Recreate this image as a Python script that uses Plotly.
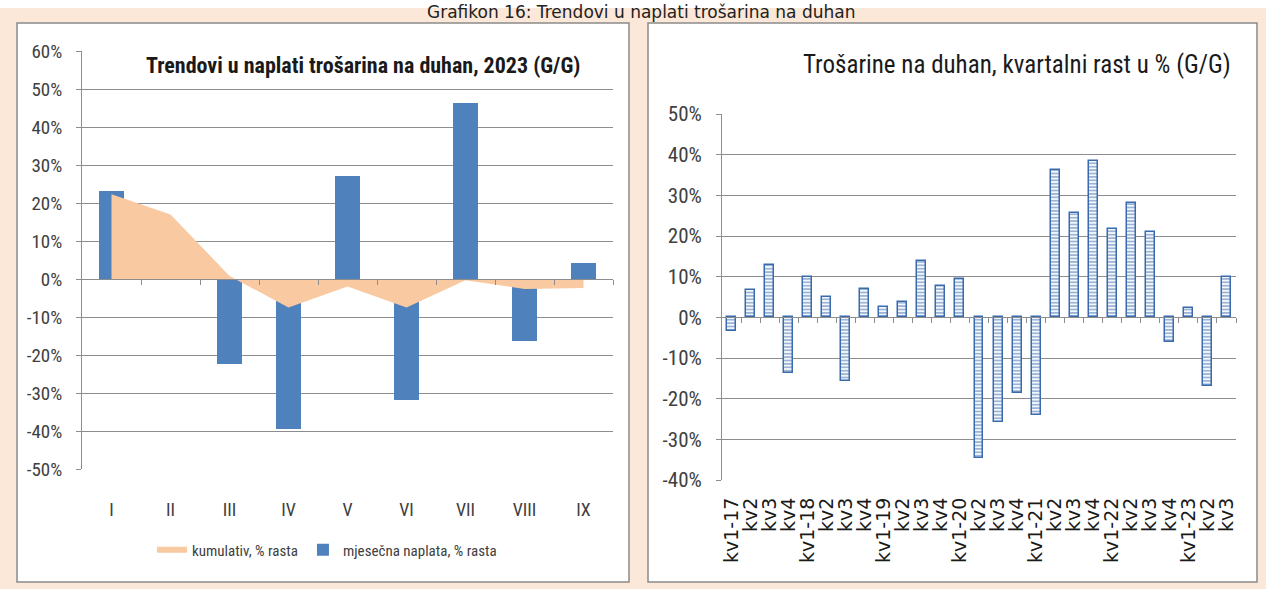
import plotly.graph_objects as go

# ---------------- data ----------------
months = ["I", "II", "III", "IV", "V", "VI", "VII", "VIII", "IX"]
monthly_growth = [23.1, 8.9, -22.3, -39.5, 27.2, -31.8, 46.2, -16.4, 4.3]
cumulative_growth = [22.3, 17.0, 0.8, -7.5, -2.0, -7.5, -0.3, -2.6, -2.4]

quarters = ["kv1-17", "kv2", "kv3", "kv4",
            "kv1-18", "kv2", "kv3", "kv4",
            "kv1-19", "kv2", "kv3", "kv4",
            "kv1-20", "kv2", "kv3", "kv4",
            "kv1-21", "kv2", "kv3", "kv4",
            "kv1-22", "kv2", "kv3", "kv4",
            "kv1-23", "kv2", "kv3"]
quarterly_growth = [-3.3, 6.6, 12.9, -13.7,
                    10.0, 5.1, -15.7, 7.0,
                    2.5, 3.8, 13.8, 7.6,
                    9.4, -34.6, -25.8, -18.7,
                    -23.9, 36.3, 25.7, 38.4,
                    21.7, 28.2, 21.0, -6.0,
                    2.2, -17.0, 9.8]

left_title = "Trendovi u naplati trošarina na duhan, 2023 (G/G)"
right_title = "Trošarine na duhan, kvartalni rast u % (G/G)"
caption = "Grafikon 16: Trendovi u naplati trošarina na duhan"
legend_cum = "kumulativ, % rasta"
legend_month = "mjesečna naplata, % rasta"

# ---------------- layout constants ----------------
W, H = 1266, 589
NARROW = "Liberation Sans Narrow, Arial Narrow, Roboto Condensed, sans-serif"
PEACH_BG = "#FCE8D8"
GRID = "#8d8d8d"
BLUE = "#4F81BD"
PATTERN_BLUE = "#3a6aae"
AREA = "#F9C9A1"

def px_x(x):
    return x / W

def px_y(y):
    return 1 - y / H

L_RANGE = [-50, 60]
R_RANGE = [-40, 50]
L_XDOM = [px_x(82), px_x(613)]
L_YDOM = [px_y(469), px_y(51)]
R_XDOM = [px_x(722), px_x(1236)]
R_YDOM = [px_y(480), px_y(114)]

def zero_pos(rng, dom):
    return dom[0] + (0 - rng[0]) / (rng[1] - rng[0]) * (dom[1] - dom[0])

fig = go.Figure()

# left chart
fig.add_trace(go.Scatter(
    x=months, y=cumulative_growth, mode="none", fill="tozeroy",
    fillcolor=AREA, name=legend_cum, xaxis="x", yaxis="y",
    hoverinfo="x+y"))
fig.add_trace(go.Bar(
    x=months, y=monthly_growth, marker=dict(color=BLUE, line=dict(width=0)),
    width=0.41, name=legend_month, xaxis="x", yaxis="y"))
# helper (empty) traces so that the zero-line tick axes are created
fig.add_trace(go.Scatter(x=[None], y=[None], xaxis="x3", yaxis="y",
                         showlegend=False, hoverinfo="skip"))

# right chart
fig.add_trace(go.Bar(
    x=list(range(len(quarters))), y=quarterly_growth, width=0.47,
    marker=dict(color="white", line=dict(color=PATTERN_BLUE, width=1.5),
                pattern=dict(shape="-", fgcolor=PATTERN_BLUE, bgcolor="white",
                             size=3.4, solidity=0.55)),
    showlegend=False, xaxis="x2", yaxis="y2",
    hovertext=quarters, hoverinfo="text+y"))
fig.add_trace(go.Scatter(x=[None], y=[None], xaxis="x4", yaxis="y2",
                         showlegend=False, hoverinfo="skip"))

shapes = [
    # white band on top, peach elsewhere
    dict(type="rect", xref="paper", yref="paper", x0=0, x1=1, y0=px_y(8), y1=1,
         fillcolor="white", line=dict(width=0), layer="below"),
    # panels
    dict(type="rect", xref="paper", yref="paper",
         x0=px_x(17), x1=px_x(629), y0=px_y(582), y1=px_y(23),
         fillcolor="white", line=dict(color="#8a8a8a", width=1.5), layer="below"),
    dict(type="rect", xref="paper", yref="paper",
         x0=px_x(648), x1=px_x(1257), y0=px_y(582), y1=px_y(23),
         fillcolor="white", line=dict(color="#8a8a8a", width=1.5), layer="below"),
]

n_q = len(quarters)
fig.update_layout(
    width=W, height=H,
    margin=dict(l=0, r=0, t=0, b=0, pad=0, autoexpand=False),
    paper_bgcolor=PEACH_BG,
    plot_bgcolor="rgba(0,0,0,0)",
    shapes=shapes,
    barmode="overlay",
    bargap=0,
    font=dict(family=NARROW, color="#404040"),
    showlegend=True,
    legend=dict(orientation="h", x=px_x(327), xanchor="center",
                y=px_y(550), yanchor="middle",
                font=dict(family=NARROW, size=15, color="#404040"),
                bgcolor="rgba(0,0,0,0)", itemwidth=30, traceorder="normal"),
    xaxis=dict(domain=L_XDOM, anchor="y", type="category", automargin=False,
               categoryarray=months, range=[-0.5, len(months) - 0.5],
               showgrid=False, showline=False, zeroline=False,
               ticks="outside", ticklen=24, tickcolor="rgba(0,0,0,0)",
               tickfont=dict(family=NARROW, size=18, color="#404040"),
               fixedrange=True),
    xaxis3=dict(overlaying="x", anchor="free", automargin=False,
                position=zero_pos(L_RANGE, L_YDOM),
                range=[-0.5, len(months) - 0.5],
                tickvals=[i + 0.5 for i in range(len(months))],
                showticklabels=False, showgrid=False, zeroline=False,
                showline=True, linecolor=GRID, linewidth=1,
                ticks="outside", ticklen=5, tickcolor=GRID),
    yaxis=dict(domain=L_YDOM, anchor="x", range=L_RANGE, automargin=False,
               tickvals=list(range(-50, 61, 10)),
               ticktext=[f"{v}%" for v in range(-50, 61, 10)],
               showgrid=True, gridcolor=GRID, gridwidth=1,
               zeroline=False, showline=True, linecolor=GRID,
               ticks="outside", ticklen=5, tickcolor=GRID,
               tickfont=dict(family=NARROW, size=19, color="#404040"),
               ticklabelstandoff=10),
    xaxis2=dict(domain=R_XDOM, anchor="y2", range=[-0.5, n_q - 0.5],
                automargin=False,
                tickvals=list(range(n_q)), ticktext=quarters, tickangle=-90,
                showgrid=False, showline=False, zeroline=False,
                ticks="outside", ticklen=9, tickcolor="rgba(0,0,0,0)",
                tickfont=dict(family="DejaVu Sans", size=19, color="#1a1a1a")),
    xaxis4=dict(overlaying="x2", anchor="free", automargin=False,
                position=zero_pos(R_RANGE, R_YDOM),
                range=[-0.5, n_q - 0.5],
                tickvals=[i + 0.5 for i in range(n_q)],
                showticklabels=False, showgrid=False, zeroline=False,
                showline=True, linecolor=GRID, linewidth=1,
                ticks="outside", ticklen=5, tickcolor=GRID),
    yaxis2=dict(domain=R_YDOM, anchor="x2", range=R_RANGE, automargin=False,
                tickvals=list(range(-40, 51, 10)),
                ticktext=[f"{v}%" for v in range(-40, 51, 10)],
                showgrid=True, gridcolor=GRID, gridwidth=1,
                zeroline=False, showline=True, linecolor=GRID,
                ticks="outside", ticklen=5, tickcolor=GRID,
                tickfont=dict(family=NARROW, size=21, color="#404040"),
                ticklabelstandoff=10),
    annotations=[
        dict(text=left_title, xref="paper", yref="paper",
             x=px_x(363), y=px_y(66), xanchor="center", yanchor="middle",
             showarrow=False,
             font=dict(family=NARROW, size=22, color="#1a1a1a", weight="bold")),
        dict(text=right_title, xref="paper", yref="paper",
             x=px_x(1017), y=px_y(64), xanchor="center", yanchor="middle",
             showarrow=False,
             font=dict(family=NARROW, size=25, color="#1a1a1a")),
        dict(text=caption, xref="paper", yref="paper",
             x=px_x(641), y=1, xanchor="center", yanchor="top",
             showarrow=False,
             font=dict(family="DejaVu Sans", size=17, color="#222222")),
    ],
)

fig.write_html("out.html",
               config={"displayModeBar": False},
               post_script="document.body.style.margin='0';"
                           "document.body.style.padding='0';")
